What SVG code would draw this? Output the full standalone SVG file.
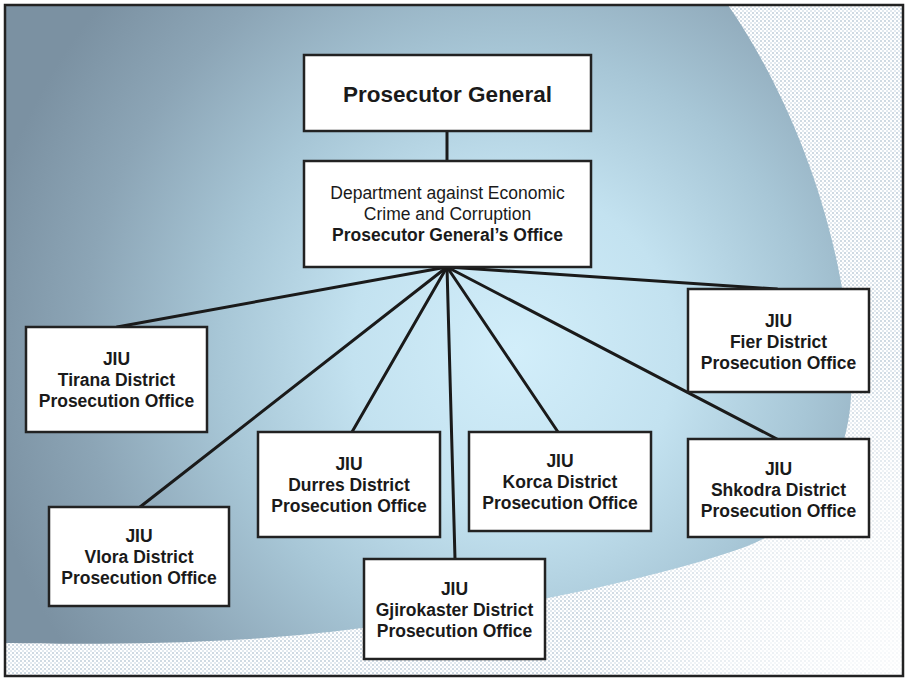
<svg xmlns="http://www.w3.org/2000/svg" width="906" height="679" viewBox="0 0 906 679">
  <defs>
    <radialGradient id="blobGrad" gradientUnits="userSpaceOnUse" cx="515" cy="350" r="540">
      <stop offset="0" stop-color="#d2eefa"/>
      <stop offset="0.3" stop-color="#c3e2f0"/>
      <stop offset="0.55" stop-color="#a7c6d6"/>
      <stop offset="0.8" stop-color="#8ca5b6"/>
      <stop offset="1" stop-color="#7b91a2"/>
    </radialGradient>
    <pattern id="dots" patternUnits="userSpaceOnUse" width="4" height="4">
      <rect width="4" height="4" fill="#ffffff"/>
      <rect x="0" y="0" width="2" height="2" fill="#cfdae3"/>
      <rect x="2" y="2" width="2" height="2" fill="#e2e9ef"/>
    </pattern>
    <radialGradient id="fadeGrad" gradientUnits="userSpaceOnUse" cx="906" cy="679" r="320">
      <stop offset="0" stop-color="#222"/>
      <stop offset="0.6" stop-color="#777"/>
      <stop offset="1" stop-color="#fff"/>
    </radialGradient>
    <mask id="fadeMask" maskUnits="userSpaceOnUse" x="0" y="0" width="906" height="679">
      <rect width="906" height="679" fill="url(#fadeGrad)"/>
    </mask>
  </defs>
  <style>
    .box { fill: #ffffff; stroke: #222222; stroke-width: 2.5; }
    .conn { stroke: #1a1a1a; stroke-width: 3; fill: none; stroke-linecap: round; }
    .t { font-family: "Liberation Sans", Arial, sans-serif; fill: #1a1a1a; text-anchor: middle; }
    .b { font-weight: bold; font-size: 17.5px; }
    .r { font-size: 17.5px; }
    .title { font-weight: bold; font-size: 22.5px; }
  </style>

  <!-- background -->
  <rect x="0" y="0" width="906" height="679" fill="#ffffff"/>
  <rect x="5" y="5" width="898" height="671" fill="url(#dots)" mask="url(#fadeMask)"/>
  <path d="M5,5 L728,5 C790,95 845,230 851,370 C856,460 812,522 745,547 C640,585 420,628 250,639 C150,645 60,644 5,643 Z" fill="url(#blobGrad)"/>

  <!-- connectors -->
  <g id="connectors">
    <line class="conn" x1="447" y1="131" x2="447" y2="161"/>
    <line class="conn" x1="447" y1="267" x2="117" y2="327"/>
    <line class="conn" x1="447" y1="267" x2="140" y2="507"/>
    <line class="conn" x1="447" y1="267" x2="352" y2="432"/>
    <line class="conn" x1="447" y1="267" x2="455" y2="559"/>
    <line class="conn" x1="447" y1="267" x2="558" y2="432"/>
    <line class="conn" x1="447" y1="267" x2="777" y2="289"/>
    <line class="conn" x1="447" y1="267" x2="777" y2="439"/>
  </g>

  <g id="prosecutor-general">
    <rect class="box" x="304" y="55" width="287" height="76"/>
    <text class="t title" x="447.5" y="102">Prosecutor General</text>
  </g>

  <g id="department">
    <rect class="box" x="304" y="161" width="287" height="106"/>
    <text class="t r" x="447.5" y="199">Department against Economic</text>
    <text class="t r" x="447.5" y="220">Crime and Corruption</text>
    <text class="t b" x="447.5" y="241">Prosecutor General’s Office</text>
  </g>

  <g id="tirana">
    <rect class="box" x="26" y="327" width="181" height="105"/>
    <text class="t b" x="116.5" y="365">JIU</text>
    <text class="t b" x="116.5" y="386">Tirana District</text>
    <text class="t b" x="116.5" y="407">Prosecution Office</text>
  </g>

  <g id="vlora">
    <rect class="box" x="49" y="507" width="180" height="99"/>
    <text class="t b" x="139" y="542">JIU</text>
    <text class="t b" x="139" y="563">Vlora District</text>
    <text class="t b" x="139" y="584">Prosecution Office</text>
  </g>

  <g id="durres">
    <rect class="box" x="258" y="432" width="182" height="105"/>
    <text class="t b" x="349" y="470">JIU</text>
    <text class="t b" x="349" y="491">Durres District</text>
    <text class="t b" x="349" y="512">Prosecution Office</text>
  </g>

  <g id="korca">
    <rect class="box" x="469" y="432" width="182" height="99"/>
    <text class="t b" x="560" y="467">JIU</text>
    <text class="t b" x="560" y="488">Korca District</text>
    <text class="t b" x="560" y="509">Prosecution Office</text>
  </g>

  <g id="gjirokaster">
    <rect class="box" x="364" y="559" width="181" height="100"/>
    <text class="t b" x="454.5" y="595">JIU</text>
    <text class="t b" x="454.5" y="616">Gjirokaster District</text>
    <text class="t b" x="454.5" y="637">Prosecution Office</text>
  </g>

  <g id="fier">
    <rect class="box" x="688" y="289" width="181" height="103"/>
    <text class="t b" x="778.5" y="327">JIU</text>
    <text class="t b" x="778.5" y="348">Fier District</text>
    <text class="t b" x="778.5" y="369">Prosecution Office</text>
  </g>

  <g id="shkodra">
    <rect class="box" x="688" y="439" width="181" height="98"/>
    <text class="t b" x="778.5" y="475">JIU</text>
    <text class="t b" x="778.5" y="496">Shkodra District</text>
    <text class="t b" x="778.5" y="517">Prosecution Office</text>
  </g>

  <!-- frame -->
  <rect x="5" y="5" width="898" height="671" fill="none" stroke="#222222" stroke-width="2.5"/>
</svg>
